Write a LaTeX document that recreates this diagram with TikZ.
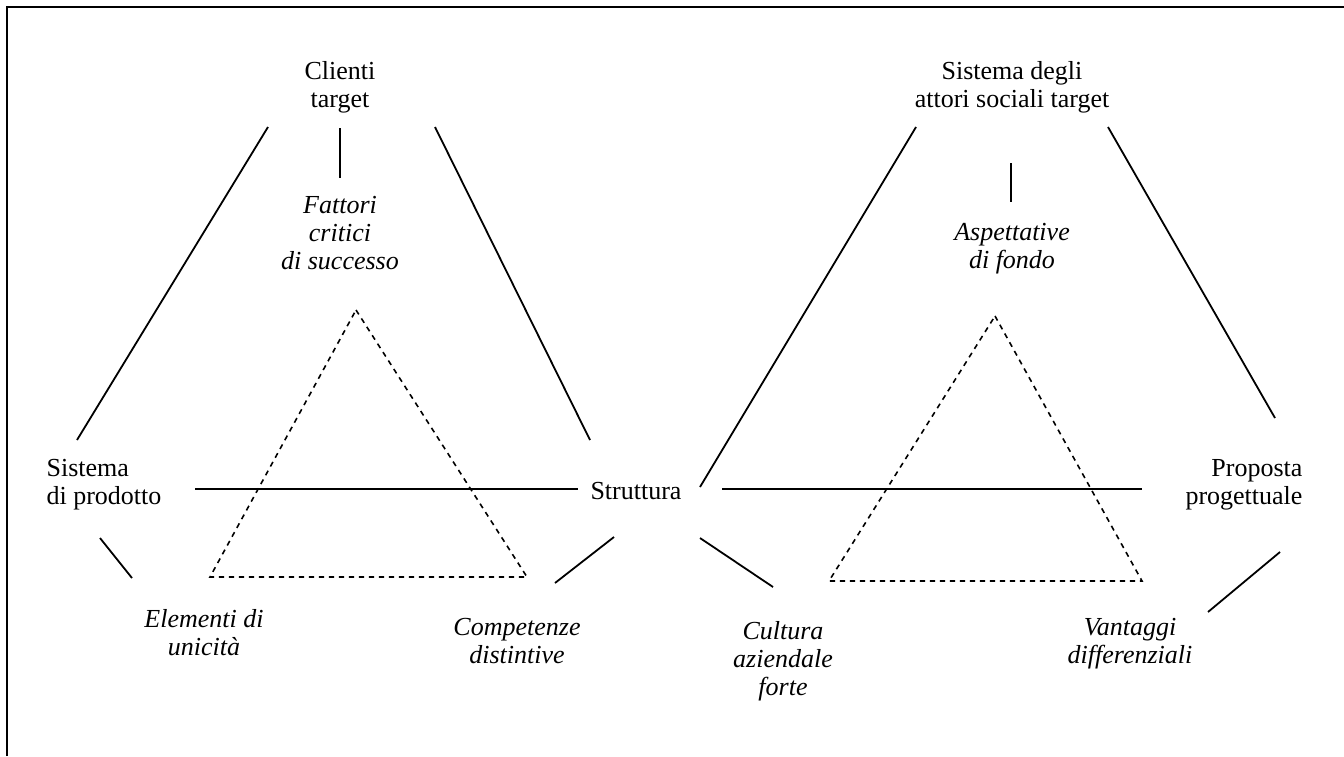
\documentclass[tikz,border=0pt]{standalone}
\usepackage{fontspec}
\setmainfont{Liberation Serif}
\usetikzlibrary{positioning}

\begin{document}
\begin{tikzpicture}[x=0.5pt, y=-0.5pt, line width=0.9pt,
  every node/.style={align=center, inner sep=0pt, font=\fontsize{13}{14}\selectfont},
  key/.style={font=\fontsize{13}{14}\selectfont\itshape},
  guide/.style={dashed, dash pattern=on 2.6pt off 2.4pt, line width=0.8pt}]

 \useasboundingbox (0,0) rectangle (1344,756);
 \draw[line width=1.3pt] (7,756) -- (7,7) -- (1344,7);

 % left triangle
 \node (clienti) at (340,87) {Clienti\\target};
 \node[key] (fattori) at (340,233) {Fattori\\critici\\di successo};
 \node[align=left] (prodotto) at (104,485) {Sistema\\di prodotto};
 \node (struttura) at (636,491) {Struttura};
 \node[key] (unicita) at (204,633) {Elementi di\\unicit\`a};
 \node[key] (competenze) at (517,641) {Competenze\\distintive};

 % right triangle
 \node (attori) at (1012,87) {Sistema degli\\attori sociali target};
 \node[key] (aspettative) at (1012,249) {Aspettative\\di fondo};
 \node[align=right] (proposta) at (1244,485) {Proposta\\progettuale};
 \node[key] (cultura) at (783,661) {Cultura\\aziendale\\forte};
 \node[key] (vantaggi) at (1130,644) {Vantaggi\\differenziali};

 % line ends
 \foreach \n/\x/\y in {c1/268/127, c2/77/440, c3/340/128, c4/340/178, c5/435/127, c6/590/440,
   c7/195/489, c8/578/489, c9/100/538, c10/132/578, c11/614/537, c12/555/583,
   a1/916/127, a2/700/487, a3/1011/163, a4/1011/202, a5/1108/127, a6/1275/418,
   a7/722/489, a8/1142/489, a9/700/538, a10/773/587, a11/1280/552, a12/1208/612}
   \coordinate (\n) at (\x,\y);

 % lines
 \foreach \source/\dest in {c1/c2, c3/c4, c5/c6, c7/c8, c9/c10, c11/c12,
   a1/a2, a3/a4, a5/a6, a7/a8, a9/a10, a11/a12}
   \draw (\source) -- (\dest);

 % dashed triangles
 \coordinate (lt) at (356,310); \coordinate (lr) at (527,577); \coordinate (ll) at (210,577);
 \coordinate (rt) at (995,316); \coordinate (rr) at (1142,581); \coordinate (rl) at (829,581);
 \draw[guide] (lt) -- (lr) -- (ll) -- cycle;
 \draw[guide] (rt) -- (rr) -- (rl) -- cycle;

\end{tikzpicture}
\end{document}
